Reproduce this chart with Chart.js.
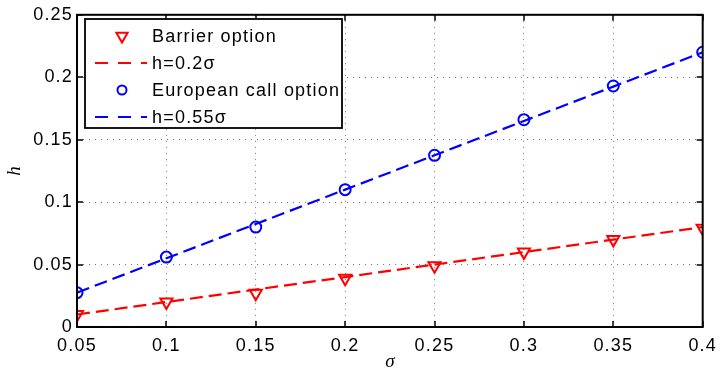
<!DOCTYPE html>
<html>
<head>
<meta charset="utf-8">
<script src="https://cdn.jsdelivr.net/npm/chart.js@4/dist/chart.umd.min.js"></script>
<style>
  html, body { margin: 0; padding: 0; background: #fff; }
  #wrap { width: 725px; height: 373px; }
</style>
</head>
<body>
<div id="wrap"><canvas id="c" width="725" height="373"></canvas></div>
<script>
// Volatility grid and the step sizes h measured at each volatility
const sigma = [0.05, 0.1, 0.15, 0.2, 0.25, 0.3, 0.35, 0.4];
const barrierH = [0.010, 0.020, 0.027, 0.039, 0.049, 0.060, 0.070, 0.079];
const barrierFit = [0.010, 0.020, 0.030, 0.040, 0.050, 0.060, 0.070, 0.080];
const europeanH = [0.0275, 0.056, 0.080, 0.110, 0.1375, 0.166, 0.193, 0.220];
const europeanFit = [0.0275, 0.055, 0.0825, 0.110, 0.1375, 0.165, 0.1925, 0.220];

// Axis tick labels
const xTickLabels = ['0.05', '0.1', '0.15', '0.2', '0.25', '0.3', '0.35', '0.4'];
const yTickLabels = ['0', '0.05', '0.1', '0.15', '0.2', '0.25'];

// Series names shown in the legend
const seriesNames = ['Barrier option', 'h=0.2\u03c3', 'European call option', 'h=0.55\u03c3'];

const RED = '#ff0000';
const BLUE = '#0000ff';
const FONT = 'Liberation Sans';
const SPACING = '1.2px';

const toPoints = (ys) => sigma.map((x, i) => ({ x: x, y: ys[i] }));

// Slightly tracked-out lettering for every label on the canvas
const spacingPlugin = {
  id: 'spacing',
  beforeUpdate(chart) { chart.ctx.letterSpacing = SPACING; },
  beforeDraw(chart) { chart.ctx.letterSpacing = SPACING; }
};

// Frame, inward tick marks, axis titles and the boxed legend
const framePlugin = {
  id: 'frame',
  afterDraw(chart) {
    const ctx = chart.ctx;
    const a = chart.chartArea;
    const xs = chart.scales.x, ys = chart.scales.y;
    ctx.save();
    ctx.strokeStyle = '#000';
    ctx.lineWidth = 1.5;
    ctx.setLineDash([]);
    ctx.beginPath();
    const tl = 6;
    xs.ticks.forEach(t => {
      const px = Math.round(xs.getPixelForValue(t.value));
      ctx.moveTo(px, a.bottom); ctx.lineTo(px, a.bottom - tl);
      ctx.moveTo(px, a.top); ctx.lineTo(px, a.top + tl);
    });
    ys.ticks.forEach(t => {
      const py = Math.round(ys.getPixelForValue(t.value));
      ctx.moveTo(a.left, py); ctx.lineTo(a.left + tl, py);
      ctx.moveTo(a.right, py); ctx.lineTo(a.right - tl, py);
    });
    ctx.stroke();
    ctx.lineWidth = 2;
    ctx.strokeRect(a.left, a.top, a.right - a.left, a.bottom - a.top);

    // axis titles
    ctx.fillStyle = '#000';
    ctx.letterSpacing = '0px';
    ctx.font = 'italic 19px "Liberation Serif"';
    ctx.textAlign = 'center';
    ctx.textBaseline = 'middle';
    ctx.fillText('\u03c3', (a.left + a.right) / 2, 362);
    ctx.save();
    ctx.translate(15, (a.top + a.bottom) / 2);
    ctx.rotate(-Math.PI / 2);
    ctx.fillText('h', 0, 0);
    ctx.restore();

    // legend
    ctx.letterSpacing = SPACING;
    const box = { x: 85, y: 19, w: 257, h: 109 };
    ctx.fillStyle = '#fff';
    ctx.fillRect(box.x, box.y, box.w, box.h);
    ctx.lineWidth = 1.8;
    ctx.strokeStyle = '#000';
    ctx.strokeRect(box.x, box.y, box.w, box.h);
    const rows = [36, 63, 90, 117];
    chart.data.datasets.forEach((ds, i) => {
      const y = rows[i];
      if (ds.showLine === false) {
        ctx.strokeStyle = ds.borderColor;
        ctx.fillStyle = 'rgba(0,0,0,0)';
        ctx.lineWidth = ds.pointBorderWidth;
        Chart.helpers.drawPoint(ctx, {
          pointStyle: ds.pointStyle,
          radius: ds.pointStyle === 'circle' ? 4.5 : 6.5,
          rotation: ds.pointRotation || 0,
          borderWidth: ds.pointBorderWidth
        }, 122, y);
      } else {
        ctx.strokeStyle = ds.borderColor;
        ctx.lineWidth = ds.borderWidth;
        ctx.setLineDash([13, 10]);
        ctx.beginPath();
        ctx.moveTo(95, y); ctx.lineTo(147, y);
        ctx.stroke();
        ctx.setLineDash([]);
      }
      ctx.fillStyle = '#000';
      ctx.font = '18px "' + FONT + '"';
      ctx.textAlign = 'left';
      ctx.textBaseline = 'middle';
      ctx.fillText(ds.label, 152, y + 1);
    });
    ctx.restore();
  }
};

new Chart(document.getElementById('c'), {
  type: 'line',
  data: {
    datasets: [
      {
        label: seriesNames[0],
        data: toPoints(barrierH),
        showLine: false,
        borderColor: RED,
        backgroundColor: 'rgba(0,0,0,0)',
        pointStyle: 'triangle',
        pointRotation: 180,
        pointRadius: 7,
        pointBorderWidth: 2,
        pointBackgroundColor: 'rgba(0,0,0,0)',
        pointBorderColor: RED
      },
      {
        label: seriesNames[1],
        data: toPoints(barrierFit),
        borderColor: RED,
        borderWidth: 2.2,
        borderDash: [13, 6],
        pointRadius: 0,
        fill: false
      },
      {
        label: seriesNames[2],
        data: toPoints(europeanH),
        showLine: false,
        borderColor: BLUE,
        backgroundColor: 'rgba(0,0,0,0)',
        pointStyle: 'circle',
        pointRadius: 5.5,
        pointBorderWidth: 2,
        pointBackgroundColor: 'rgba(0,0,0,0)',
        pointBorderColor: BLUE
      },
      {
        label: seriesNames[3],
        data: toPoints(europeanFit),
        borderColor: BLUE,
        borderWidth: 2.2,
        borderDash: [13, 6],
        pointRadius: 0,
        fill: false
      }
    ]
  },
  options: {
    responsive: false,
    animation: false,
    devicePixelRatio: 1,
    layout: { padding: { top: 11, right: 15, left: 0, bottom: 0 } },
    plugins: { legend: { display: false }, tooltip: { enabled: false } },
    scales: {
      x: {
        type: 'linear',
        min: 0.05,
        max: 0.4,
        afterBuildTicks: (s) => { s.ticks = xTickLabels.map(t => ({ value: parseFloat(t) })); },
        afterFit: (s) => { s.height = 46; },
        ticks: {
          autoSkip: false,
          maxRotation: 0,
          padding: 8,
          color: '#000',
          font: { family: FONT, size: 18 },
          callback: (v, i) => xTickLabels[i]
        },
        grid: { color: '#777', lineWidth: 1, drawTicks: false },
        border: { display: false, dash: [1, 5] }
      },
      y: {
        type: 'linear',
        min: 0,
        max: 0.25,
        afterBuildTicks: (s) => { s.ticks = yTickLabels.map(t => ({ value: parseFloat(t) })); },
        afterFit: (s) => { s.width = 77; },
        ticks: {
          autoSkip: false,
          padding: 4,
          color: '#000',
          font: { family: FONT, size: 18 },
          callback: (v, i) => yTickLabels[i]
        },
        grid: { color: '#777', lineWidth: 1, drawTicks: false },
        border: { display: false, dash: [1, 5] }
      }
    }
  },
  plugins: [spacingPlugin, framePlugin]
});
</script>
</body>
</html>
